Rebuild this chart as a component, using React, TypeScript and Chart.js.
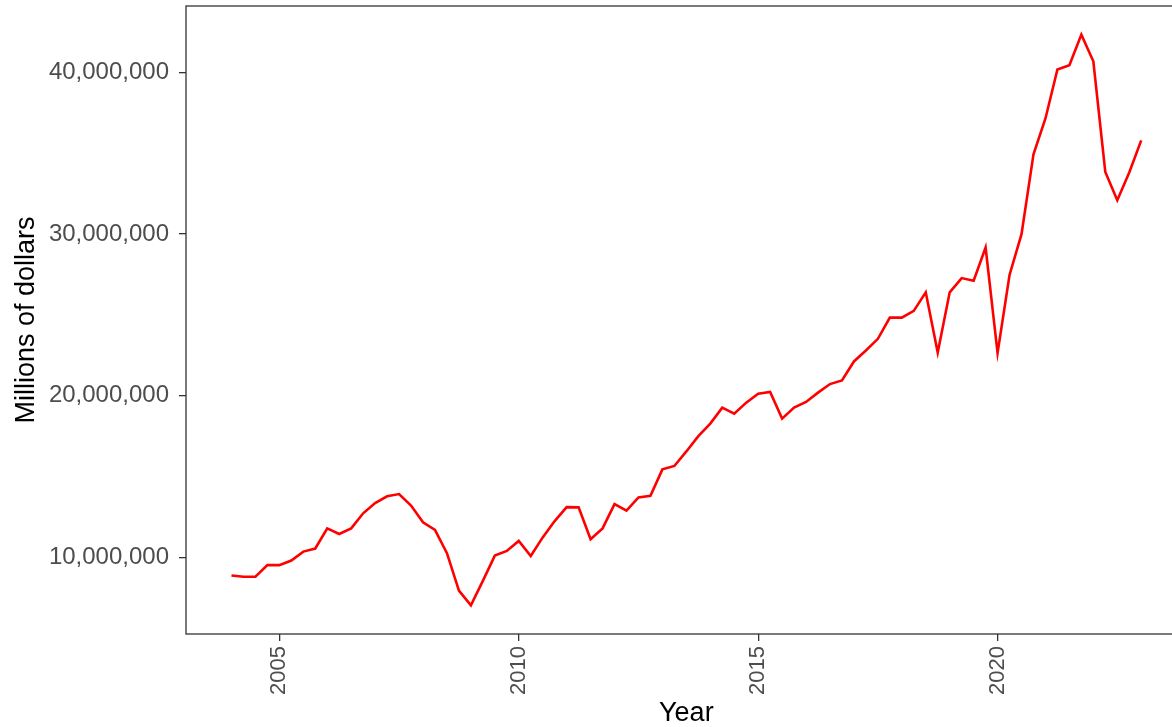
import React, { useEffect, useRef } from 'react';
import { Chart, registerables } from 'chart.js';

Chart.register(...registerables);

// Quarterly periods (decimal years)
const periods = [
  2004.0, 2004.25, 2004.5, 2004.75,
  2005.0, 2005.25, 2005.5, 2005.75,
  2006.0, 2006.25, 2006.5, 2006.75,
  2007.0, 2007.25, 2007.5, 2007.75,
  2008.0, 2008.25, 2008.5, 2008.75,
  2009.0, 2009.25, 2009.5, 2009.75,
  2010.0, 2010.25, 2010.5, 2010.75,
  2011.0, 2011.25, 2011.5, 2011.75,
  2012.0, 2012.25, 2012.5, 2012.75,
  2013.0, 2013.25, 2013.5, 2013.75,
  2014.0, 2014.25, 2014.5, 2014.75,
  2015.0, 2015.25, 2015.5, 2015.75,
  2016.0, 2016.25, 2016.5, 2016.75,
  2017.0, 2017.25, 2017.5, 2017.75,
  2018.0, 2018.25, 2018.5, 2018.75,
  2019.0, 2019.25, 2019.5, 2019.75,
  2020.0, 2020.25, 2020.5, 2020.75,
  2021.0, 2021.25, 2021.5, 2021.75,
  2022.0, 2022.25, 2022.5, 2022.75,
  2023.0,
];

// Values (dollars, labelled "Millions of dollars")
const values = [
  8870000, 8790000, 8790000, 9510000,
  9510000, 9800000, 10350000, 10540000,
  11790000, 11440000, 11790000, 12720000,
  13350000, 13770000, 13910000, 13200000,
  12160000, 11690000, 10250000, 7940000,
  7020000, 8540000, 10100000, 10390000,
  11010000, 10080000, 11230000, 12240000,
  13100000, 13090000, 11110000, 11790000,
  13290000, 12880000, 13700000, 13800000,
  15440000, 15650000, 16550000, 17500000,
  18270000, 19260000, 18890000, 19570000,
  20120000, 20230000, 18580000, 19260000,
  19610000, 20190000, 20720000, 20940000,
  22120000, 22800000, 23520000, 24830000,
  24830000, 25250000, 26400000, 22670000,
  26400000, 27280000, 27120000, 29170000,
  22640000, 27470000, 30000000, 34940000,
  37160000, 40190000, 40450000, 42350000,
  40700000, 33850000, 32100000, 33810000,
  35800000,
];

const xTicks = [2005, 2010, 2015, 2020];
const yTicks = [10000000, 20000000, 30000000, 40000000];
const xTitle = 'Year';
const yTitle = 'Millions of dollars';

const W = 1200;
const H = 740;
const FAMILY = '"Liberation Sans", Arial, sans-serif';

export default function App() {
  const ref = useRef<HTMLCanvasElement>(null);

  useEffect(() => {
    if (!ref.current) return;
    const panelBorder = {
      id: 'panelBorder',
      afterDatasetsDraw(chart: any) {
        const { ctx, chartArea } = chart;
        const { left, top, right, bottom } = chartArea;
        ctx.save();
        ctx.strokeStyle = '#333333';
        ctx.lineWidth = 1.3;
        ctx.strokeRect(left, top, right - left, bottom - top);
        ctx.restore();
      },
    };

    const chart = new Chart(ref.current, {
      type: 'line',
      data: {
        datasets: [
          {
            data: periods.map((p, i) => ({ x: p, y: values[i] })),
            borderColor: '#FF0000',
            borderWidth: 2.6,
            pointRadius: 0,
            tension: 0,
            fill: false,
          },
        ],
      },
      options: {
        responsive: false,
        animation: false,
        devicePixelRatio: 1,
        layout: { padding: { top: 6, right: W - 1186.7, left: 0, bottom: 0 } },
        plugins: { legend: { display: false }, tooltip: { enabled: false } },
        scales: {
          x: {
            type: 'linear',
            min: 2003.05,
            max: 2023.95,
            afterBuildTicks: (axis: any) => {
              axis.ticks = xTicks.map((v) => ({ value: v }));
            },
            afterFit: (s: any) => {
              s.height = H - 634;
              s.paddingLeft = 0;
              s.paddingRight = 0;
            },
            ticks: {
              autoSkip: false,
              maxRotation: 90,
              minRotation: 90,
              padding: 5,
              color: '#4D4D4D',
              font: { family: FAMILY, size: 22 },
              callback: (v: any) => String(v),
            },
            grid: {
              drawOnChartArea: false,
              drawTicks: true,
              tickLength: 7,
              color: '#333333',
              lineWidth: 1.3,
            },
            border: { display: false },
            title: {
              display: true,
              text: xTitle,
              color: '#000000',
              font: { family: FAMILY, size: 27 },
              padding: { top: 0, bottom: 10 },
            },
          },
          y: {
            type: 'linear',
            min: 5250000,
            max: 44120000,
            afterBuildTicks: (axis: any) => {
              axis.ticks = yTicks.map((v) => ({ value: v }));
            },
            afterFit: (s: any) => {
              s.width = 186;
              s.paddingTop = 0;
              s.paddingBottom = 0;
            },
            ticks: {
              padding: 10,
              color: '#4D4D4D',
              font: { family: FAMILY, size: 24 },
              callback: (v: any) => Number(v).toLocaleString('en-US'),
            },
            grid: {
              drawOnChartArea: false,
              drawTicks: true,
              tickLength: 7,
              color: '#333333',
              lineWidth: 1.3,
            },
            border: { display: false },
            title: {
              display: true,
              text: yTitle,
              color: '#000000',
              font: { family: FAMILY, size: 27 },
              padding: { top: 10, bottom: 0 },
            },
          },
        },
      },
      plugins: [panelBorder],
    });

    return () => chart.destroy();
  }, []);

  return (
    <div
      style={{
        position: 'fixed',
        left: 0,
        top: 0,
        width: 1172,
        height: 727,
        overflow: 'hidden',
        background: '#ffffff',
      }}
    >
      <canvas ref={ref} width={W} height={H} style={{ display: 'block' }} />
    </div>
  );
}
